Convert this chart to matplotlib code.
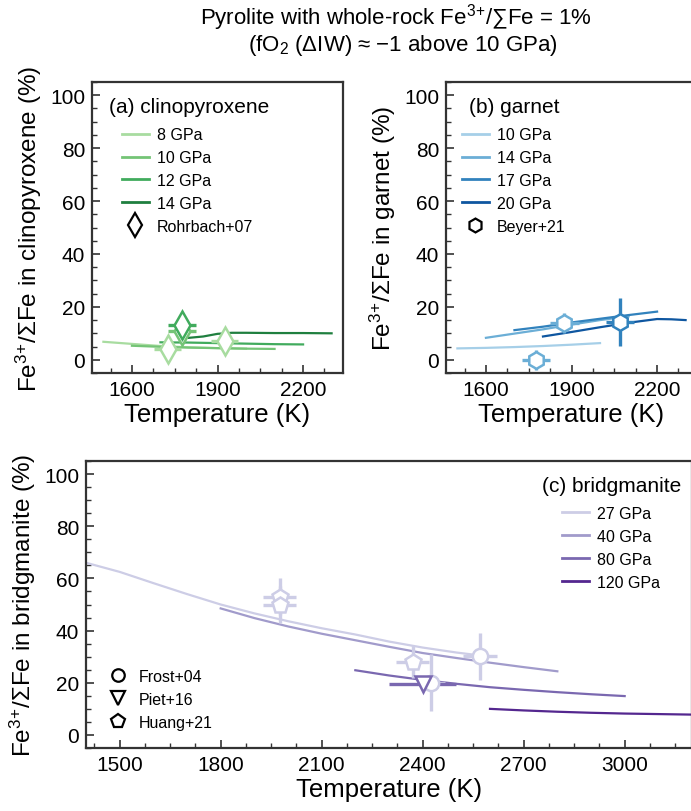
import matplotlib
matplotlib.use('Agg')
import matplotlib.pyplot as plt
from matplotlib.ticker import MultipleLocator
from matplotlib.lines import Line2D

plt.rcParams['font.family'] = ['Liberation Sans', 'DejaVu Sans']
plt.rcParams['mathtext.fontset'] = 'custom'
plt.rcParams['mathtext.rm'] = 'Liberation Sans'
plt.rcParams['mathtext.it'] = 'Liberation Sans:italic'
plt.rcParams['mathtext.bf'] = 'Liberation Sans:bold'

# ---------------- data ----------------
# (a) clinopyroxene model curves
cpx_pressures = ['8 GPa', '10 GPa', '12 GPa', '14 GPa']
cpx_T_8 = [1500, 1600, 1700, 1800, 1900, 2000]
cpx_v_8 = [6.8, 6.0, 5.2, 4.7, 4.4, 4.2]
cpx_T_10 = [1600, 1700, 1800, 1900, 2000, 2100]
cpx_v_10 = [5.3, 4.9, 4.6, 4.4, 4.2, 4.1]
cpx_T_12 = [1700, 1800, 1900, 2000, 2100, 2200]
cpx_v_12 = [6.6, 6.5, 6.3, 6.1, 5.9, 5.8]
cpx_T_14 = [1800, 1850, 1900, 1950, 2000, 2100, 2200, 2300]
cpx_v_14 = [8.3, 8.8, 9.8, 10.2, 10.2, 10.1, 10.1, 10.0]
# Rohrbach+07 points
roh_T = [1725, 1925, 1775, 1775]
roh_v = [4.2, 7.0, 10.8, 13.2]
roh_xerr = [48, 48, 50, 50]
roh_yerr = [1.0, 1.0, 1.0, 1.0]
roh_p = [0, 0, 1, 2]  # index into cpx pressures

# (b) garnet model curves
grt_pressures = ['10 GPa', '14 GPa', '17 GPa', '20 GPa']
grt_T_10 = [1500, 1600, 1700, 1800, 1900, 2000]
grt_v_10 = [4.3, 4.5, 4.8, 5.2, 5.7, 6.3]
grt_T_14 = [1600, 1700, 1800, 1900, 2000, 2100]
grt_v_14 = [8.3, 9.9, 11.5, 13.3, 15.0, 16.4]
grt_T_17 = [1700, 1800, 1900, 2000, 2100, 2200]
grt_v_17 = [11.2, 12.5, 14.1, 15.5, 16.9, 18.2]
grt_T_20 = [1800, 1900, 2000, 2100, 2200, 2250, 2300]
grt_v_20 = [8.8, 10.5, 12.3, 14.0, 15.4, 15.3, 15.0]
# Beyer+21 points
bey_T = [1775, 1875, 2070]
bey_v = [0.0, 14.0, 14.2]
bey_xerr = [50, 50, 50]
bey_yerr = [3.8, 3.8, 9.0]
bey_p = [1, 1, 2]

# (c) bridgmanite model curves
bdg_pressures = ['27 GPa', '40 GPa', '80 GPa', '120 GPa']
bdg_T_27 = [1400, 1500, 1600, 1700, 1800, 1900, 2000, 2100, 2200, 2300, 2400, 2500, 2600]
bdg_v_27 = [66.0, 62.5, 58.2, 54.0, 50.0, 46.6, 43.6, 40.9, 38.5, 35.8, 33.5, 31.6, 30.0]
bdg_T_40 = [1800, 1900, 2000, 2100, 2200, 2300, 2400, 2500, 2600, 2700, 2800]
bdg_v_40 = [48.5, 44.8, 41.6, 38.8, 36.3, 33.8, 31.4, 29.5, 27.7, 26.0, 24.4]
bdg_T_80 = [2200, 2300, 2400, 2500, 2600, 2700, 2800, 2900, 3000]
bdg_v_80 = [24.8, 22.8, 21.1, 19.6, 18.3, 17.3, 16.4, 15.6, 14.9]
bdg_T_120 = [2600, 2700, 2800, 2900, 3000, 3100, 3200]
bdg_v_120 = [10.0, 9.4, 8.9, 8.5, 8.2, 8.0, 7.8]
# Frost+04
fro_T = [2570, 2425]
fro_v = [30.1, 20.0]
fro_xerr = [50, 40]
fro_yerr = [9.0, 11.0]
fro_p = [0, 0]
# Piet+16
pie_T = [2400]
pie_v = [19.5]
pie_xerr = [100]
pie_yerr = [0.0]
pie_p = [2]
# Huang+21
hua_T = [1975, 1975, 2370]
hua_v = [53.0, 50.0, 28.0]
hua_xerr = [50, 50, 50]
hua_yerr = [7.0, 7.0, 6.0]
hua_p = [0, 0, 0]

# ---------------- style ----------------
greens = ['#a8dca0', '#74c476', '#41ab5d', '#1f7f3f']
blues = ['#a6cfe8', '#6baed6', '#3182bd', '#0e56a0']
purples = ['#cdcde6', '#a19bcb', '#7a68b0', '#54278f']
spine_c = '#333333'
TICK_FS = 15
XLAB_FS = 18.5
YLAB_FS = 17.5
LEG_FS = 11.5

W, H = 691, 812
fig = plt.figure(figsize=(W / 100, H / 100), dpi=100)


def px_axes(l, t, r, b):
    return fig.add_axes([l / W, (H - b) / H, (r - l) / W, (b - t) / H])


def style_axes(ax, xmaj, xmaj_off, xmin, xmin_off):
    for s in ax.spines.values():
        s.set_color(spine_c)
        s.set_linewidth(1.6)
    ax.xaxis.set_major_locator(MultipleLocator(xmaj, offset=xmaj_off))
    ax.xaxis.set_minor_locator(MultipleLocator(xmin, offset=xmin_off))
    ax.yaxis.set_major_locator(MultipleLocator(20))
    ax.yaxis.set_minor_locator(MultipleLocator(5))
    ax.tick_params(which='both', direction='in', top=False, right=False,
                   labelsize=TICK_FS, color=spine_c)
    ax.tick_params(which='major', length=6, width=1.2, pad=5)
    ax.tick_params(which='minor', length=3.5, width=1.0)
    ax.set_ylim(-5, 105)


def points(ax, T, v, xe, ye, cols, marker, ms):
    for t, val, a, b, c in zip(T, v, xe, ye, cols):
        ax.errorbar([t], [val], xerr=[a], yerr=[b] if b > 0 else None,
                    fmt='none', ecolor=c, elinewidth=2.4, capsize=0, zorder=3)
        ax.plot([t], [val], linestyle='none', marker=marker, ms=ms,
                mfc='white', mec=c, mew=1.8, zorder=4)


ylab = 'Fe$^{3}$$^{+}$/ΣFe in %s (%%)'

# ---------- (a) ----------
axa = px_axes(92, 83, 343, 374)
style_axes(axa, 300, 100, 75, 25)
axa.set_xlim(1460, 2340)
for T, v, c, lab in zip([cpx_T_8, cpx_T_10, cpx_T_12, cpx_T_14],
                        [cpx_v_8, cpx_v_10, cpx_v_12, cpx_v_14], greens, cpx_pressures):
    axa.plot(T, v, color=c, lw=1.6, label=lab, zorder=2)
points(axa, roh_T, roh_v, roh_xerr, roh_yerr, [greens[i] for i in roh_p], 'd', 14)
h = [Line2D([], [], color=c, lw=2.0) for c in greens]
h.append(Line2D([], [], ls='none', marker='d', ms=12, mfc='white', mec='black', mew=1.6))
axa.legend(h, cpx_pressures + ['Rohrbach+07'], loc='upper left',
           bbox_to_anchor=(0.118, 0.845), frameon=False, fontsize=LEG_FS,
           borderpad=0, borderaxespad=0, handlelength=1.7, handletextpad=0.5,
           labelspacing=0.5)
axa.text(0.068, 0.9175, '(a) clinopyroxene', transform=axa.transAxes,
         fontsize=15, va='center', ha='left')
axa.set_xlabel('Temperature (K)', fontsize=XLAB_FS, labelpad=2)
axa.set_ylabel(ylab % 'clinopyroxene', fontsize=YLAB_FS, labelpad=4)

# ---------- (b) ----------
axb = px_axes(446, 83, 697, 374)
style_axes(axb, 300, 100, 75, 25)
axb.set_xlim(1460, 2340)
for T, v, c, lab in zip([grt_T_10, grt_T_14, grt_T_17, grt_T_20],
                        [grt_v_10, grt_v_14, grt_v_17, grt_v_20], blues, grt_pressures):
    axb.plot(T, v, color=c, lw=1.6, label=lab, zorder=2)
points(axb, bey_T, bey_v, bey_xerr, bey_yerr, [blues[i] for i in bey_p], 'h', 12)
h = [Line2D([], [], color=c, lw=2.0) for c in blues]
h.append(Line2D([], [], ls='none', marker='h', ms=10, mfc='white', mec='black', mew=1.6))
axb.legend(h, grt_pressures + ['Beyer+21'], loc='upper left',
           bbox_to_anchor=(0.0625, 0.845), frameon=False, fontsize=LEG_FS,
           borderpad=0, borderaxespad=0, handlelength=1.7, handletextpad=0.5,
           labelspacing=0.5)
axb.text(0.092, 0.9175, '(b) garnet', transform=axb.transAxes,
         fontsize=15, va='center', ha='left')
axb.set_xlabel('Temperature (K)', fontsize=XLAB_FS, labelpad=2)
axb.set_ylabel(ylab % 'garnet', fontsize=YLAB_FS, labelpad=4)

# ---------- (c) ----------
axc = px_axes(86, 462, 692, 749)
style_axes(axc, 300, 0, 75, 0)
axc.set_xlim(1400, 3200)
for T, v, c, lab in zip([bdg_T_27, bdg_T_40, bdg_T_80, bdg_T_120],
                        [bdg_v_27, bdg_v_40, bdg_v_80, bdg_v_120], purples, bdg_pressures):
    axc.plot(T, v, color=c, lw=1.6, label=lab, zorder=2)
points(axc, hua_T, hua_v, hua_xerr, hua_yerr, [purples[i] for i in hua_p], 'p', 12)
points(axc, fro_T, fro_v, fro_xerr, fro_yerr, [purples[i] for i in fro_p], 'o', 11)
points(axc, pie_T, pie_v, pie_xerr, pie_yerr, [purples[i] for i in pie_p], 'v', 12)
h = [Line2D([], [], color=c, lw=2.0) for c in purples]
leg1 = axc.legend(h, bdg_pressures, loc='upper left',
                  bbox_to_anchor=(0.785, 0.843), frameon=False, fontsize=LEG_FS,
                  borderpad=0, borderaxespad=0, handlelength=1.7, handletextpad=0.5,
                  labelspacing=0.5)
axc.add_artist(leg1)
hm = [Line2D([], [], ls='none', marker=m, ms=s, mfc='white', mec='black', mew=1.6)
      for m, s in [('o', 9), ('v', 10), ('p', 10)]]
axc.legend(hm, ['Frost+04', 'Piet+16', 'Huang+21'], loc='upper left',
           bbox_to_anchor=(0.039, 0.275), frameon=False, fontsize=LEG_FS,
           borderpad=0, borderaxespad=0, handlelength=1.0, handletextpad=0.8,
           labelspacing=0.5)
axc.text(0.753, 0.914, '(c) bridgmanite', transform=axc.transAxes,
         fontsize=15, va='center', ha='left')
axc.set_xlabel('Temperature (K)', fontsize=XLAB_FS, labelpad=2)
axc.set_ylabel(ylab % 'bridgmanite', fontsize=YLAB_FS, labelpad=4)

# ---------- title ----------
fig.text(396 / W, 1 - 18 / H, 'Pyrolite with whole-rock Fe$^{3}$$^{+}$/∑Fe = 1%',
         ha='center', va='center', fontsize=16)
fig.text(403 / W, 1 - 45 / H, '(fO$_2$ (ΔIW) ≈ −1 above 10 GPa)',
         ha='center', va='center', fontsize=16)

fig.savefig('out.png', dpi=100)
